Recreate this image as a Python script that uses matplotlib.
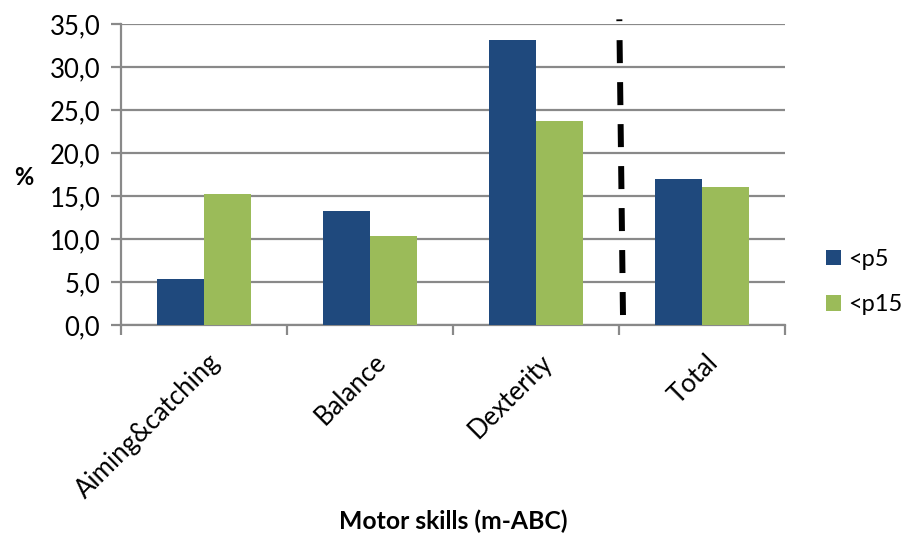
import matplotlib
matplotlib.use("Agg")
import matplotlib.pyplot as plt
import numpy as np
from matplotlib.patches import Patch

plt.rcParams['font.family'] = ['Lato', 'DejaVu Sans']

categories = ["Aiming&catching", "Balance", "Dexterity", "Total"]
series_names = ["<p5", "<p15"]
p5_values = [5.4, 13.3, 33.1, 17.0]
p15_values = [15.2, 10.3, 23.7, 16.0]
y_ticks = [0, 5, 10, 15, 20, 25, 30, 35]
y_tick_labels = ["0,0", "5,0", "10,0", "15,0", "20,0", "25,0", "30,0", "35,0"]

blue = "#1F497D"
green = "#9BBB59"
grid_gray = "#898989"
FS = 18.5

fig = plt.figure(figsize=(9.03, 5.34), dpi=100)
ax = fig.add_axes([121 / 903, 1 - 325 / 534, (785 - 121) / 903, (325 - 24) / 534])

x = np.arange(len(categories))
w = 0.283
ax.bar(x - w / 2, p5_values, width=w, color=blue, zorder=3, label=series_names[0])
ax.bar(x + w / 2, p15_values, width=w, color=green, zorder=3, label=series_names[1])

ax.set_xlim(-0.5, len(categories) - 0.5)
ax.set_ylim(0, 35)
ax.set_yticks(y_ticks)
ax.set_yticklabels(y_tick_labels, fontsize=FS)
ax.yaxis.grid(True, color=grid_gray, linewidth=1.6, zorder=0)
ax.tick_params(axis='y', length=7, width=1.6, color=grid_gray, pad=8)

# category boundaries carry the x ticks
ax.set_xticks(np.arange(len(categories) + 1) - 0.5, minor=False)
ax.set_xticklabels([])
ax.tick_params(axis='x', length=7, width=1.6, color=grid_gray, direction='out')
for xi, name in zip(x, categories):
    ax.annotate(name, xy=(xi, 0), xycoords=('data', 'axes fraction'),
                xytext=(9, -24), textcoords='offset points',
                rotation=45, ha='right', va='center', rotation_mode='anchor',
                fontsize=FS, annotation_clip=False)

for side in ['top', 'right']:
    ax.spines[side].set_visible(False)
for side in ['left', 'bottom']:
    ax.spines[side].set_color(grid_gray)
    ax.spines[side].set_linewidth(1.6)

# separator between the subscales and the total
ax.plot([2.524, 2.502], [1.16, 35.54], color='black', linewidth=4.3,
        linestyle=(0, (3.85, 3.18)), zorder=4, clip_on=False)

fig.text(14 / 903, 1 - 178 / 534, "%", fontsize=17, fontweight='bold',
         ha='left', va='center')
fig.text(453 / 903, 1 - 521 / 534, "Motor skills (m-ABC)", fontsize=17.8,
         fontweight='bold', ha='center', va='center')

handles = [Patch(facecolor=blue, label=series_names[0]),
           Patch(facecolor=green, label=series_names[1])]
fig.legend(handles=handles, loc='center left', bbox_to_anchor=(826 / 903, 1 - 282 / 534),
           frameon=False, fontsize=17, handlelength=0.64, handleheight=0.64,
           handletextpad=0.3, labelspacing=1.05, borderpad=0, borderaxespad=0)

fig.savefig("out.png", dpi=100)
